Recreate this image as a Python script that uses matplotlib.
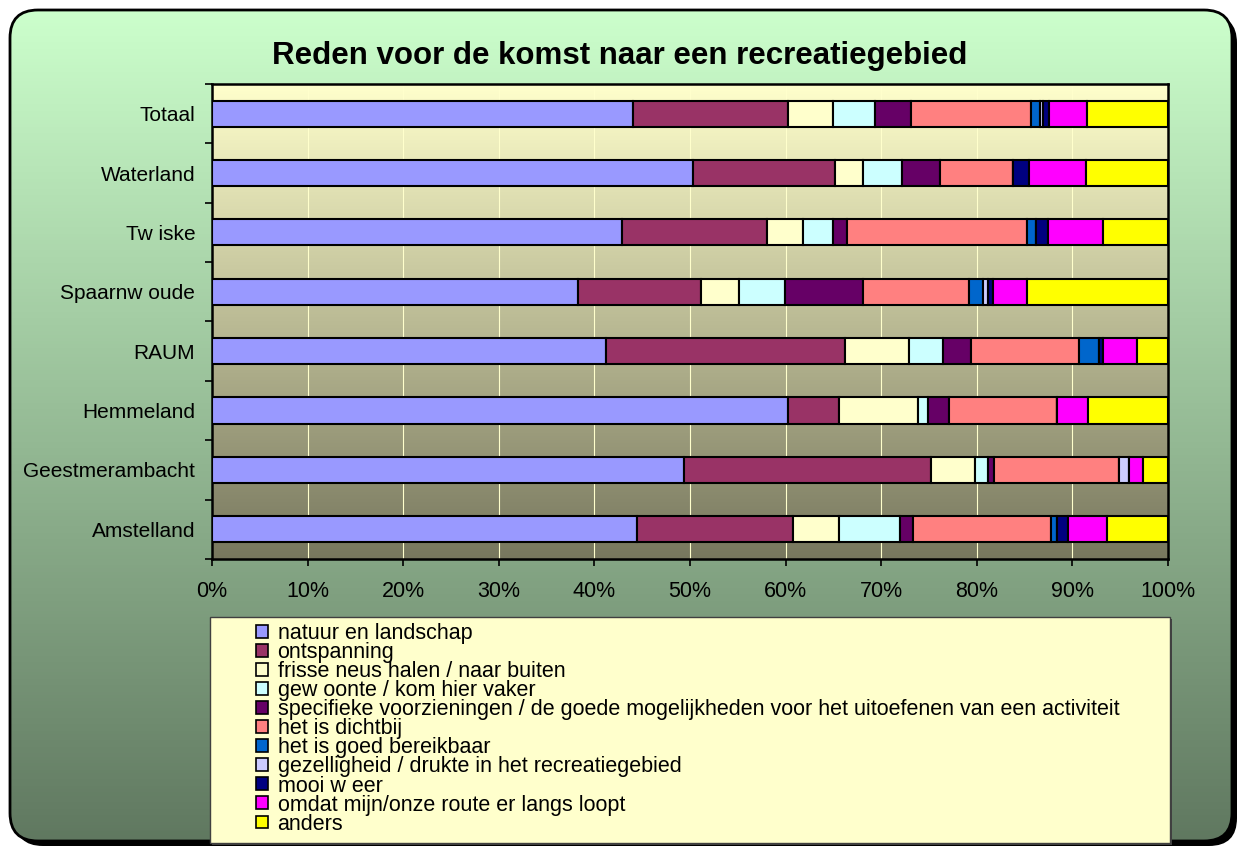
import matplotlib
matplotlib.use("Agg")
import matplotlib.pyplot as plt
import numpy as np
from matplotlib.patches import FancyBboxPatch, Rectangle, Patch

plt.rcParams['font.family'] = ['Liberation Sans', 'DejaVu Sans']

# data (percentages per area)
areas = ["Totaal", "Waterland", "Tw iske", "Spaarnw oude", "RAUM",
         "Hemmeland", "Geestmerambacht", "Amstelland"]

natuur = [44.0, 50.3, 42.9, 38.3, 41.2, 60.3, 49.4, 44.5]
ontspanning = [16.3, 14.9, 15.2, 12.8, 25.0, 5.3, 25.8, 16.3]
frisse = [4.7, 2.9, 3.7, 4.0, 6.7, 8.3, 4.6, 4.8]
gewoonte = [4.3, 4.1, 3.2, 4.8, 3.6, 1.0, 1.4, 6.4]
specifiek = [3.8, 3.9, 1.4, 8.2, 2.9, 2.2, 0.6, 1.3]
dichtbij = [12.6, 7.7, 18.9, 11.1, 11.3, 11.3, 13.1, 14.5]
bereikbaar = [0.9, 0.0, 0.9, 1.5, 2.1, 0.0, 0.0, 0.6]
gezellig = [0.3, 0.0, 0.0, 0.5, 0.0, 0.0, 1.0, 0.0]
mooi_weer = [0.7, 1.7, 1.2, 0.5, 0.4, 0.0, 0.0, 1.1]
route = [3.9, 5.9, 5.8, 3.6, 3.6, 3.2, 1.5, 4.1]
anders = [8.5, 8.6, 6.8, 14.7, 3.2, 8.4, 2.6, 6.4]

series = [natuur, ontspanning, frisse, gewoonte, specifiek, dichtbij,
          bereikbaar, gezellig, mooi_weer, route, anders]
labels = ["natuur en landschap", "ontspanning",
          "frisse neus halen / naar buiten", "gew oonte / kom hier vaker",
          "specifieke voorzieningen / de goede mogelijkheden voor het uitoefenen van een activiteit",
          "het is dichtbij", "het is goed bereikbaar",
          "gezelligheid / drukte in het recreatiegebied", "mooi w eer",
          "omdat mijn/onze route er langs loopt", "anders"]
colors = ["#9999FF", "#993366", "#FFFFCC", "#CCFFFF", "#660066", "#FF8080",
          "#0066CC", "#CCCCFF", "#000080", "#FF00FF", "#FFFF00"]

W, H = 1240, 847
fig = plt.figure(figsize=(W / 100, H / 100), dpi=100)
fig.patch.set_facecolor("white")

# background: rounded box with a green gradient, in pixel coordinates
bg = fig.add_axes([0, 0, 1, 1], zorder=-5)
bg.set_xlim(0, W)
bg.set_ylim(H, 0)
bg.axis("off")

shadow = FancyBboxPatch((15, 15), 1222, 831, boxstyle="round,pad=0,rounding_size=28",
                        facecolor="black", edgecolor="none")
bg.add_patch(shadow)
box = FancyBboxPatch((10, 10), 1222, 831, boxstyle="round,pad=0,rounding_size=28",
                     facecolor="none", edgecolor="black", linewidth=2, zorder=3)
bg.add_patch(box)
top = np.array([204, 255, 204]) / 255
bot = np.array([96, 120, 96]) / 255
t = np.linspace(0, 1, 256)[:, None]
grad = (top[None, :] * (1 - t) + bot[None, :] * t)[:, None, :]
im = bg.imshow(grad, extent=(10, 1232, 841, 10), aspect="auto", zorder=1)
im.set_clip_path(box)

# legend box
bg.add_patch(Rectangle((212, 619), 960, 226, facecolor="#404040", edgecolor="none", zorder=4))
bg.add_patch(Rectangle((210, 617), 960, 226, facecolor="#FFFFCC", edgecolor="#404040",
                       linewidth=1, zorder=5))

fig.text(0.5, 1 - 56 / H, "Reden voor de komst naar een recreatiegebied",
         ha="center", va="center", fontsize=22.5, fontweight="bold")

# main chart
ax = fig.add_axes([212 / W, 1 - 559 / H, 956 / W, 475 / H])
y = np.arange(len(areas))
ptop = np.array([255, 255, 204]) / 255
pbot = np.array([119, 119, 94]) / 255
pgrad = (ptop[None, :] * (1 - t) + pbot[None, :] * t)[:, None, :]
ax.imshow(pgrad, extent=(0, 100, len(areas) - 0.5, -0.5), aspect="auto", zorder=0)

left = np.zeros(len(areas))
for vals, lab, col in zip(series, labels, colors):
    vals = np.array(vals)
    ax.barh(y, vals, left=left, height=0.44, color=col, edgecolor="black",
            linewidth=1.5, label=lab, zorder=3)
    left += vals

ax.set_xlim(0, 100)
ax.set_ylim(len(areas) - 0.5, -0.5)
ax.set_xticks(np.arange(0, 101, 10))
ax.set_xticklabels([f"{v}%" for v in range(0, 101, 10)], fontsize=15.5)
ax.set_yticks(y)
ax.set_yticklabels(areas, fontsize=15)
ax.set_yticks(np.arange(-0.5, len(areas), 1), minor=True)
ax.tick_params(axis="y", which="major", length=0, pad=12)
ax.tick_params(axis="y", which="minor", length=5, width=1.2, direction="out")
ax.tick_params(axis="x", length=5, width=1.2, direction="out", pad=11)
ax.grid(axis="x", color="#FFFFCC", linewidth=0.8, zorder=1)
ax.set_axisbelow(True)
for s in ax.spines.values():
    s.set_linewidth(1.8)
    s.set_color("black")

handles = [Patch(facecolor=c, edgecolor="black", linewidth=1.2) for c in colors]
fig.legend(handles, labels, loc="upper left", bbox_to_anchor=(256 / W, 1 - 623 / H),
           frameon=False, fontsize=15.5, handlelength=0.55, handleheight=0.55,
           handletextpad=0.45, labelspacing=-0.09, borderpad=0, borderaxespad=0)

fig.savefig("out.png", dpi=100)
